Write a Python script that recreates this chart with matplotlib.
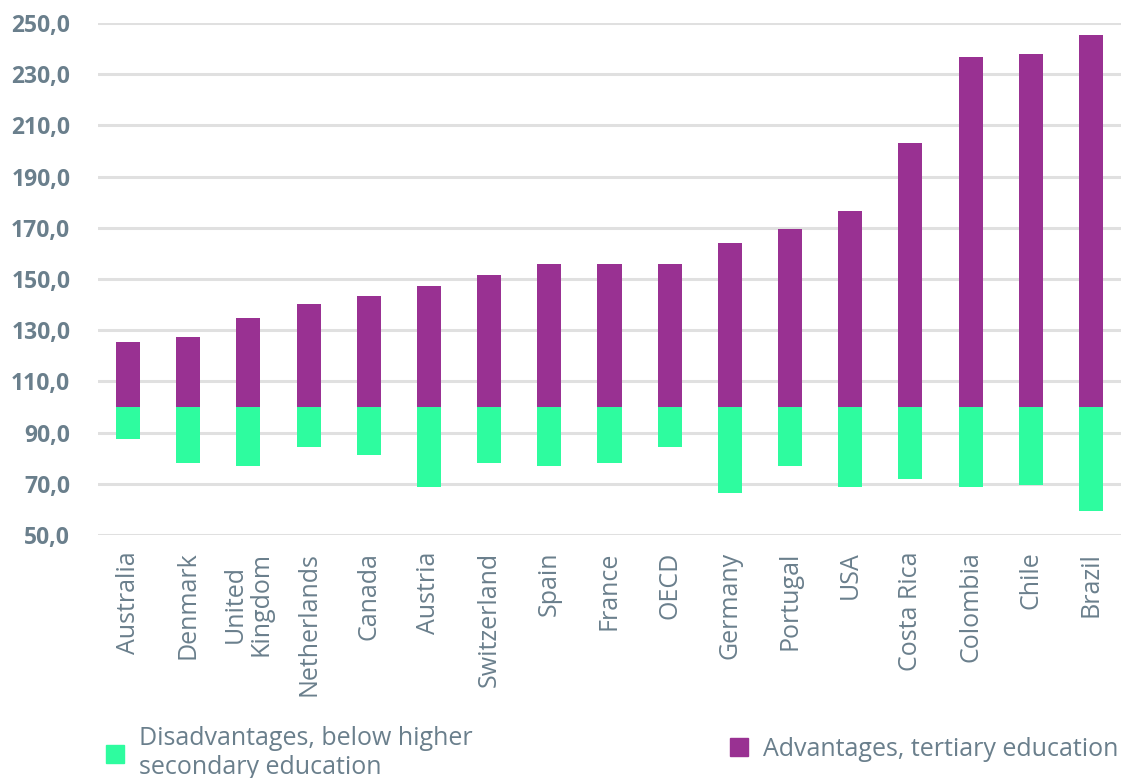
import numpy as np
import matplotlib.pyplot as plt
from matplotlib.patches import Patch

# ── Data ───────────────────────────────────────────────
COUNTRIES = ['Australia', 'Denmark', 'United\nKingdom', 'Netherlands', 'Canada',
             'Austria', 'Switzerland', 'Spain', 'France', 'OECD', 'Germany',
             'Portugal', 'USA', 'Costa Rica', 'Colombia', 'Chile', 'Brazil']

# tertiary education (top of purple bar)
TERTIARY = [125.2, 127.4, 134.7, 140.1, 143.3, 147.3, 151.6, 155.7, 155.8,
            155.8, 164.2, 169.5, 176.6, 203.3, 236.9, 237.9, 245.3]

# below higher secondary education (bottom of green bar)
BELOW_SEC = [87.6, 78.1, 76.9, 84.4, 81.2, 68.6, 78.1, 76.9, 78.1,
             84.4, 66.6, 76.9, 68.6, 71.7, 68.6, 69.7, 59.2]

BASE = 100
TEXT_COLOR = '#6a7f8c'
GREEN = '#2efc9f'
PURPLE = '#993192'

plt.rcParams['font.family'] = ['Open Sans', 'DejaVu Sans']

fig = plt.figure(figsize=(11.23, 7.78), dpi=100)
ax = fig.add_axes([98 / 1123, 1 - 535 / 778, (1121 - 98) / 1123, (535 - 23) / 778])

x = np.arange(len(COUNTRIES))
tert = np.array(TERTIARY) - BASE
below = np.array(BELOW_SEC) - BASE

ax.bar(x, tert, bottom=BASE, width=0.4, color=PURPLE, zorder=3)
ax.bar(x, below, bottom=BASE, width=0.4, color=GREEN, zorder=3)

ax.set_xlim(-0.5, len(COUNTRIES) - 0.5)
ax.set_ylim(50, 250)
ax.set_yticks(np.arange(50, 251, 20))
ax.set_yticklabels([f'{v:.1f}'.replace('.', ',') for v in np.arange(50, 251, 20)],
                   fontsize=16.5, fontweight='bold', color=TEXT_COLOR)
ax.yaxis.grid(True, color='#e0e0e0', linewidth=2.2, zorder=0)
ax.tick_params(axis='y', length=0, pad=20)
ax.tick_params(axis='x', length=0, pad=12)

ax.set_xticks(x)
ax.set_xticklabels(COUNTRIES, rotation=90, fontsize=18, color=TEXT_COLOR,
                   va='top', ha='center', linespacing=1.05)

for s in ax.spines.values():
    s.set_visible(False)

# ── Legend ─────────────────────────────────────────────
h1 = Patch(color=GREEN)
h2 = Patch(color=PURPLE)
fig.legend([h1], ['Disadvantages, below higher\nsecondary education'],
           loc='center left', bbox_to_anchor=(83 / 1123, 1 - 753 / 778),
           frameon=False, fontsize=18, handlelength=0.75, handleheight=0.75,
           handletextpad=0.6, labelcolor=TEXT_COLOR, labelspacing=0)
fig.legend([h2], ['Advantages, tertiary education'],
           loc='center left', bbox_to_anchor=(707 / 1123, 1 - 749 / 778),
           frameon=False, fontsize=18, handlelength=0.75, handleheight=0.75,
           handletextpad=0.6, labelcolor=TEXT_COLOR)

plt.savefig('out.png', dpi=100)
